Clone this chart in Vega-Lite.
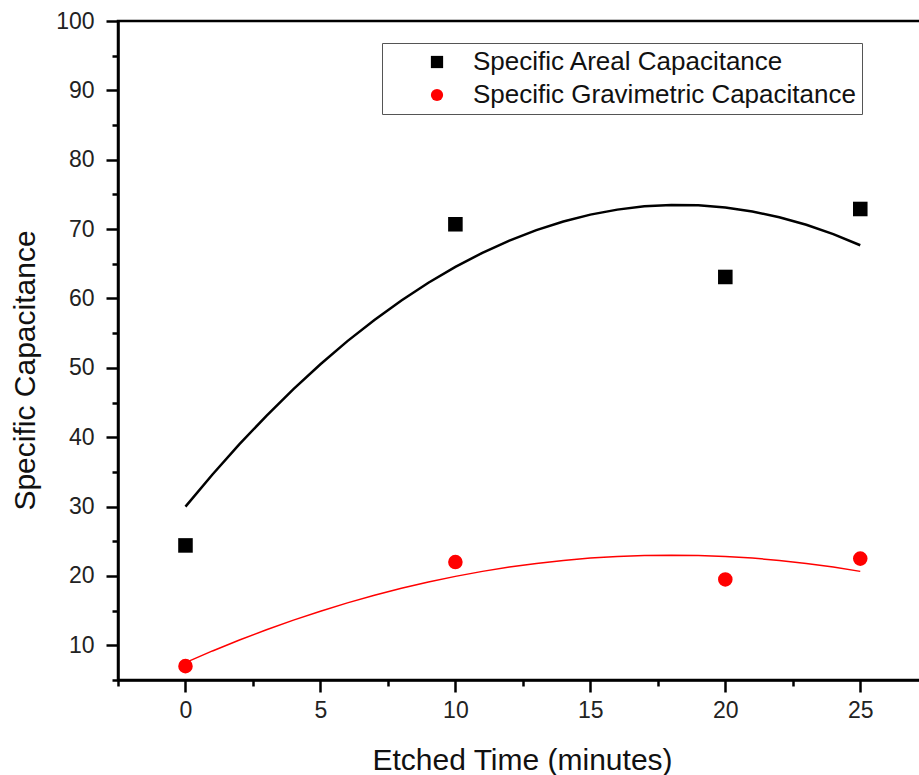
{
  "$schema": "https://vega.github.io/schema/vega-lite/v6.json",
  "width": 803,
  "height": 659,
  "autosize": {"type": "none"},
  "padding": {"left": 118, "top": 21, "right": 0, "bottom": 95},
  "background": "white",
  "config": {
    "font": "Liberation Sans",
    "view": {"stroke": "#000000", "strokeWidth": 2.5}
  },
  "datasets": {
    "points": [
      {"t": 0, "cap": 24.4, "series": "Specific Areal Capacitance"},
      {"t": 10, "cap": 70.7, "series": "Specific Areal Capacitance"},
      {"t": 20, "cap": 63.1, "series": "Specific Areal Capacitance"},
      {"t": 25, "cap": 72.9, "series": "Specific Areal Capacitance"},
      {"t": 0, "cap": 7.0, "series": "Specific Gravimetric Capacitance"},
      {"t": 10, "cap": 22.0, "series": "Specific Gravimetric Capacitance"},
      {"t": 20, "cap": 19.5, "series": "Specific Gravimetric Capacitance"},
      {"t": 25, "cap": 22.5, "series": "Specific Gravimetric Capacitance"}
    ],
    "fits": [
      {"t": 0, "cap": 30.0, "fit": "Areal fit"},
      {"t": 1, "cap": 34.62, "fit": "Areal fit"},
      {"t": 2, "cap": 38.99, "fit": "Areal fit"},
      {"t": 3, "cap": 43.09, "fit": "Areal fit"},
      {"t": 4, "cap": 46.94, "fit": "Areal fit"},
      {"t": 5, "cap": 50.52, "fit": "Areal fit"},
      {"t": 6, "cap": 53.85, "fit": "Areal fit"},
      {"t": 7, "cap": 56.91, "fit": "Areal fit"},
      {"t": 8, "cap": 59.72, "fit": "Areal fit"},
      {"t": 9, "cap": 62.26, "fit": "Areal fit"},
      {"t": 10, "cap": 64.55, "fit": "Areal fit"},
      {"t": 11, "cap": 66.58, "fit": "Areal fit"},
      {"t": 12, "cap": 68.34, "fit": "Areal fit"},
      {"t": 13, "cap": 69.85, "fit": "Areal fit"},
      {"t": 14, "cap": 71.10, "fit": "Areal fit"},
      {"t": 15, "cap": 72.09, "fit": "Areal fit"},
      {"t": 16, "cap": 72.81, "fit": "Areal fit"},
      {"t": 17, "cap": 73.28, "fit": "Areal fit"},
      {"t": 18, "cap": 73.49, "fit": "Areal fit"},
      {"t": 19, "cap": 73.44, "fit": "Areal fit"},
      {"t": 20, "cap": 73.12, "fit": "Areal fit"},
      {"t": 21, "cap": 72.55, "fit": "Areal fit"},
      {"t": 22, "cap": 71.72, "fit": "Areal fit"},
      {"t": 23, "cap": 70.63, "fit": "Areal fit"},
      {"t": 24, "cap": 69.28, "fit": "Areal fit"},
      {"t": 25, "cap": 67.67, "fit": "Areal fit"},
      {"t": 0, "cap": 7.51, "fit": "Gravimetric fit"},
      {"t": 1, "cap": 9.19, "fit": "Gravimetric fit"},
      {"t": 2, "cap": 10.76, "fit": "Gravimetric fit"},
      {"t": 3, "cap": 12.24, "fit": "Gravimetric fit"},
      {"t": 4, "cap": 13.63, "fit": "Gravimetric fit"},
      {"t": 5, "cap": 14.92, "fit": "Gravimetric fit"},
      {"t": 6, "cap": 16.12, "fit": "Gravimetric fit"},
      {"t": 7, "cap": 17.22, "fit": "Gravimetric fit"},
      {"t": 8, "cap": 18.22, "fit": "Gravimetric fit"},
      {"t": 9, "cap": 19.13, "fit": "Gravimetric fit"},
      {"t": 10, "cap": 19.94, "fit": "Gravimetric fit"},
      {"t": 11, "cap": 20.66, "fit": "Gravimetric fit"},
      {"t": 12, "cap": 21.28, "fit": "Gravimetric fit"},
      {"t": 13, "cap": 21.80, "fit": "Gravimetric fit"},
      {"t": 14, "cap": 22.24, "fit": "Gravimetric fit"},
      {"t": 15, "cap": 22.57, "fit": "Gravimetric fit"},
      {"t": 16, "cap": 22.81, "fit": "Gravimetric fit"},
      {"t": 17, "cap": 22.95, "fit": "Gravimetric fit"},
      {"t": 18, "cap": 23.00, "fit": "Gravimetric fit"},
      {"t": 19, "cap": 22.95, "fit": "Gravimetric fit"},
      {"t": 20, "cap": 22.81, "fit": "Gravimetric fit"},
      {"t": 21, "cap": 22.57, "fit": "Gravimetric fit"},
      {"t": 22, "cap": 22.24, "fit": "Gravimetric fit"},
      {"t": 23, "cap": 21.80, "fit": "Gravimetric fit"},
      {"t": 24, "cap": 21.28, "fit": "Gravimetric fit"},
      {"t": 25, "cap": 20.66, "fit": "Gravimetric fit"}
    ]
  },
  "layer": [
    {
      "data": {"name": "fits"},
      "mark": {"type": "line", "clip": false},
      "encoding": {
        "x": {
          "field": "t", "type": "quantitative",
          "scale": {"domain": [-2.5, 27.25], "nice": false, "zero": false},
          "axis": {
            "orient": "bottom", "values": [-2.5, 2.5, 7.5, 12.5, 17.5, 22.5],
            "labels": false, "domain": false, "grid": false, "title": null,
            "tickSize": 6, "tickWidth": 2.5, "tickColor": "#000000"
          }
        },
        "y": {
          "field": "cap", "type": "quantitative",
          "scale": {"domain": [5, 100], "nice": false, "zero": false},
          "axis": {
            "orient": "left", "values": [5, 15, 25, 35, 45, 55, 65, 75, 85, 95],
            "labels": false, "domain": false, "grid": false, "title": null,
            "tickSize": 6, "tickWidth": 2.5, "tickColor": "#000000"
          }
        },
        "stroke": {
          "field": "fit", "type": "nominal",
          "scale": {"range": ["#000000", "#ff0000"]},
          "legend": null
        },
        "strokeWidth": {
          "field": "fit", "type": "nominal",
          "scale": {"range": [2.5, 1.5]},
          "legend": null
        }
      }
    },
    {
      "data": {"name": "points"},
      "mark": {"type": "point", "filled": true, "opacity": 1, "size": 212},
      "encoding": {
        "x": {
          "field": "t", "type": "quantitative",
          "axis": {
            "orient": "bottom", "values": [0, 5, 10, 15, 20, 25],
            "grid": false, "title": "Etched Time (minutes)",
            "domain": true, "domainColor": "#000000", "domainWidth": 2.5,
            "tickSize": 12, "tickWidth": 2.5, "tickColor": "#000000",
            "labelFontSize": 23, "labelColor": "#222222", "labelPadding": 7,
            "titleFontSize": 30, "titleFontWeight": "normal", "titleColor": "#111111",
            "titleBaseline": "alphabetic", "titleY": 89, "titleX": 404
          }
        },
        "y": {
          "field": "cap", "type": "quantitative",
          "axis": {
            "orient": "left", "values": [10, 20, 30, 40, 50, 60, 70, 80, 90, 100],
            "grid": false, "title": "Specific Capacitance",
            "domain": true, "domainColor": "#000000", "domainWidth": 2.5,
            "tickSize": 12, "tickWidth": 2.5, "tickColor": "#000000",
            "labelFontSize": 23, "labelColor": "#222222", "labelPadding": 12,
            "titleFontSize": 30, "titleFontWeight": "normal", "titleColor": "#111111",
            "titleBaseline": "alphabetic", "titleAngle": -90, "titleX": -84, "titleY": 349, "titleAlign": "center"
          }
        },
        "color": {
          "field": "series", "type": "nominal",
          "scale": {"domain": ["Specific Areal Capacitance", "Specific Gravimetric Capacitance"], "range": ["#000000", "#ff0000"]},
          "legend": {
            "orient": "none", "legendX": 264, "legendY": 22, "title": null,
            "strokeColor": "#555555", "fillColor": "#ffffff", "padding": 6,
            "symbolOffset": 36, "labelOffset": 23, "rowPadding": 7,
            "labelFontSize": 26, "labelColor": "#111111", "symbolSize": 150,
            "symbolStrokeWidth": 0, "labelLimit": 500
          }
        },
        "shape": {
          "field": "series", "type": "nominal",
          "scale": {"domain": ["Specific Areal Capacitance", "Specific Gravimetric Capacitance"], "range": ["square", "circle"]},
          "legend": {
            "orient": "none", "legendX": 264, "legendY": 22, "title": null,
            "strokeColor": "#555555", "fillColor": "#ffffff", "padding": 6,
            "symbolOffset": 36, "labelOffset": 23, "rowPadding": 7,
            "labelFontSize": 26, "labelColor": "#111111", "symbolSize": 150,
            "symbolStrokeWidth": 0, "labelLimit": 500
          }
        }
      }
    }
  ],
  "resolve": {"axis": {"x": "independent", "y": "independent"}}
}
